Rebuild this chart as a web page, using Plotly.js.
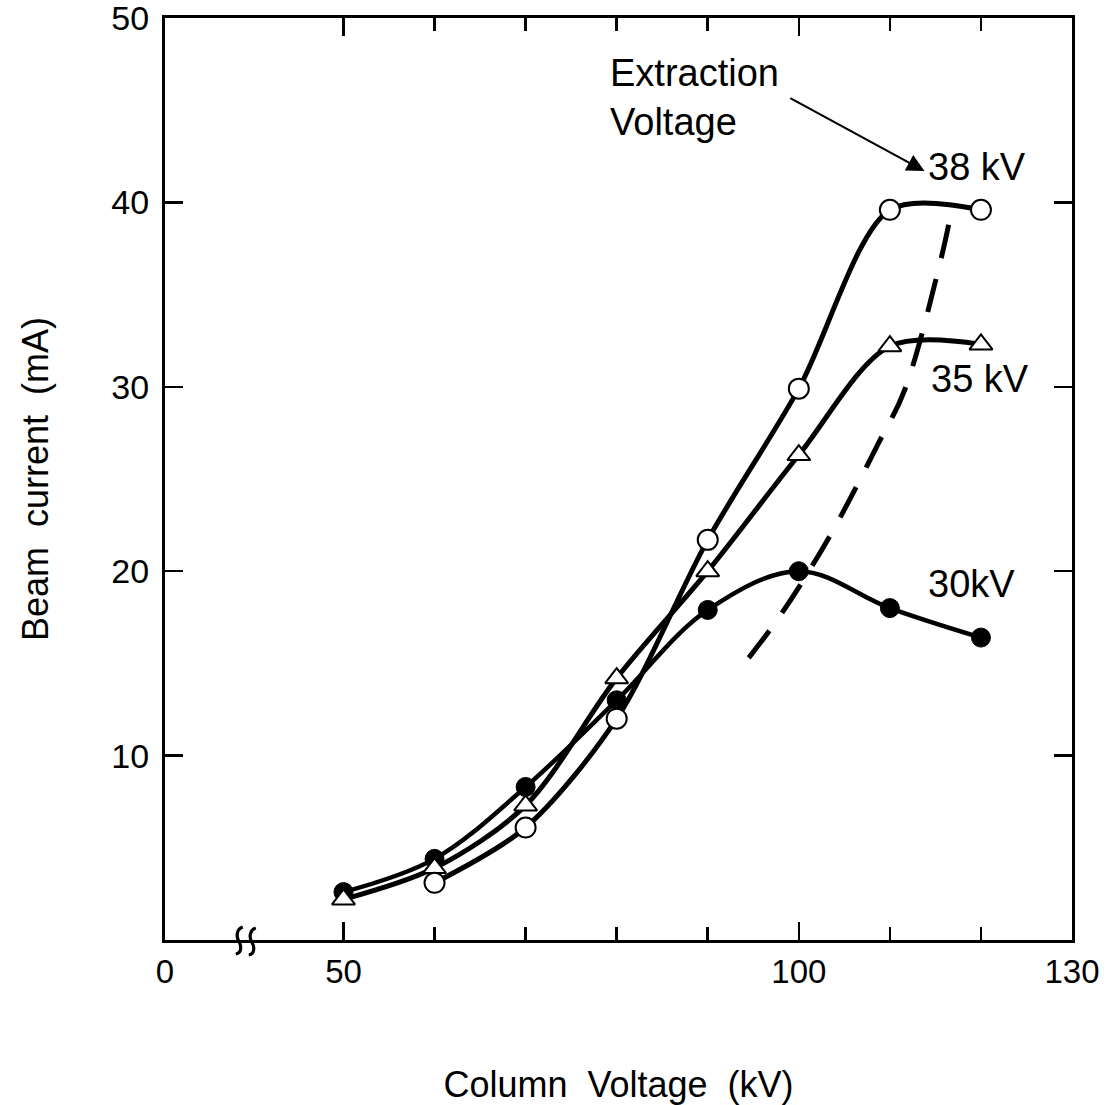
<!DOCTYPE html>
<html>
<head>
<meta charset="utf-8">
<script src="https://cdn.plot.ly/plotly-3.0.1.min.js"></script>
<style>html,body{margin:0;padding:0;background:#fff;}#chart{width:1107px;height:1105px;}</style>
</head>
<body>
<div id="chart"></div>
<script>
// Column voltage (kV)
const volt30 = [50, 60, 70, 80, 90, 100, 110, 120];
const beam30 = [2.6, 4.4, 8.3, 13.0, 17.9, 20.0, 18.0, 16.4];
const volt35 = [50, 60, 70, 80, 90, 100, 110, 120];
const beam35 = [2.2, 3.9, 7.3, 14.2, 20.0, 26.3, 32.2, 32.3];
const volt38 = [60, 70, 80, 90, 100, 110, 120];
const beam38 = [3.1, 6.1, 12.0, 21.7, 29.9, 39.6, 39.6];
// dashed envelope
const voltDash = [94.5, 98.1, 103.4, 108.6, 111.6, 115.4, 116.5];
const beamDash = [15.3, 17.7, 21.9, 26.8, 29.8, 36.5, 38.9];

const xTickVals = [30.4, 50, 100, 130];
const xTickText = ["0", "50", "100", "130"];
const xMinorVals = [60, 70, 80, 90, 110, 120];
const yTickVals = [10, 20, 30, 40, 50];

const font = {family: "Liberation Sans, Arial, sans-serif", color: "#000"};
const f = s => Object.assign({size: s}, font);

const traces = [
  {x: voltDash, y: beamDash, mode: "lines", line: {color: "#000", width: 5, dash: "34px,22px", shape: "spline"}, hoverinfo: "skip"},
  {x: volt30, y: beam30, mode: "lines+markers", line: {color: "#000", width: 4.5, shape: "spline", smoothing: 1},
   marker: {symbol: "circle", size: 19, color: "#000", line: {color: "#000", width: 1}}},
  {x: volt35, y: beam35, mode: "lines+markers", line: {color: "#000", width: 5, shape: "spline", smoothing: 0.9},
   marker: {symbol: "triangle-up", size: 20, color: "#fff", line: {color: "#000", width: 2}}},
  {x: volt38, y: beam38, mode: "lines+markers", line: {color: "#000", width: 5, shape: "spline", smoothing: 0.85},
   marker: {symbol: "circle", size: 20, color: "#fff", line: {color: "#000", width: 2}}}
];

const layout = {
  width: 1107, height: 1105,
  margin: {l: 165, r: 35, t: 18, b: 165},
  paper_bgcolor: "#fff", plot_bgcolor: "#fff",
  showlegend: false,
  font: f(32),
  xaxis: {
    range: [30.4, 130], tickmode: "array", tickvals: xTickVals, ticktext: xTickText,
    ticks: "inside", ticklen: 18, tickwidth: 2.5, tickcolor: "#000",
    minor: {tickmode: "array", tickvals: xMinorVals, ticks: "inside", ticklen: 13, tickwidth: 2.5, tickcolor: "#000"},
    showline: true, linecolor: "#000", linewidth: 3, mirror: "ticks",
    showgrid: false, zeroline: false, ticklabeloverflow: "allow",
    tickfont: f(33),
    title: {text: "Column  Voltage  (kV)", font: f(36), standoff: 84}
  },
  yaxis: {
    range: [0, 50], tickmode: "array", tickvals: yTickVals,
    ticks: "inside", ticklen: 18, tickwidth: 2.5, tickcolor: "#000",
    showline: true, linecolor: "#000", linewidth: 3, mirror: "ticks",
    showgrid: false, zeroline: false, ticklabelstandoff: 6, ticklabeloverflow: "allow",
    tickfont: f(34),
    title: {text: "Beam  current  (mA)", font: f(36), standoff: 52}
  },
  annotations: [
    {x: 79.0, y: 45.7, xref: "x", yref: "y", text: "Extraction<br>Voltage", showarrow: false,
     xanchor: "left", yanchor: "middle", align: "left", font: f(38)},
    {x: 113.8, y: 41.7, ax: 98.9, ay: 45.7, xref: "x", yref: "y", axref: "x", ayref: "y",
     text: "", showarrow: true, arrowhead: 2, arrowsize: 1.6, arrowwidth: 2.2, arrowcolor: "#000"},
    {x: 119.6, y: 41.9, xref: "x", yref: "y", text: "38 kV", showarrow: false, font: f(38)},
    {x: 119.9, y: 30.4, xref: "x", yref: "y", text: "35 kV", showarrow: false, font: f(38)},
    {x: 119.0, y: 19.3, xref: "x", yref: "y", text: "30kV", showarrow: false, font: f(38)}
  ],
  shapes: [
    {type: "path", xref: "x", yref: "paper", xsizemode: "pixel", ysizemode: "pixel", xanchor: 39.6, yanchor: 0,
     path: "M -13,-14 C -7,-13 -7,-6 -10,-1 C -13,4 -12,11 -6,13", line: {color: "#000", width: 3.2}},
    {type: "path", xref: "x", yref: "paper", xsizemode: "pixel", ysizemode: "pixel", xanchor: 39.6, yanchor: 0,
     path: "M 0,-15 C 6,-14 6,-7 3,-2 C 0,3 1,10 7,12", line: {color: "#000", width: 3.2}}
  ]
};

Plotly.newPlot("chart", traces, layout, {displayModeBar: false, staticPlot: true});
</script>
</body>
</html>
